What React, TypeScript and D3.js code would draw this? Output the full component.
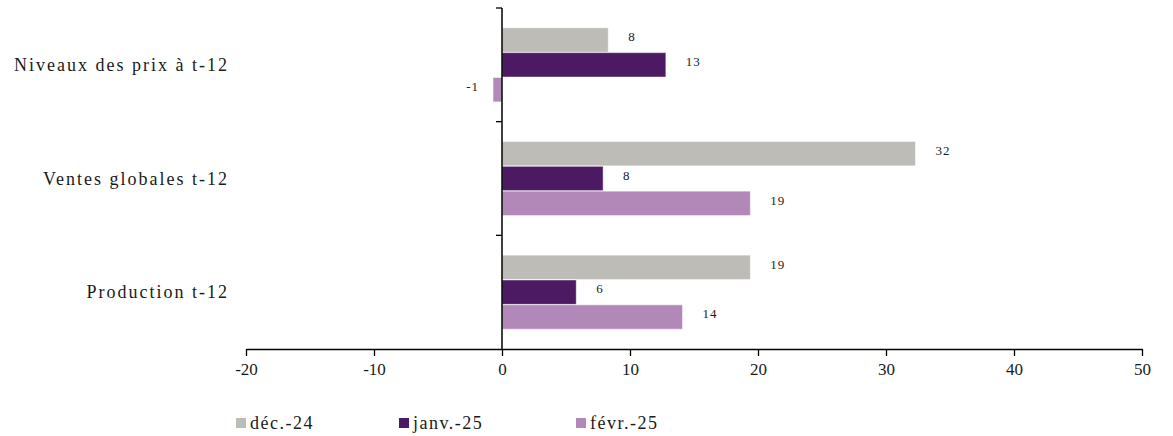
import React, { useEffect, useRef } from 'react';
import * as d3 from 'd3';

// chart values
const categories = ['Niveaux des prix à t-12', 'Ventes globales t-12', 'Production t-12'];
const seriesNames = ['déc.-24', 'janv.-25', 'févr.-25'];
const seriesColors = ['#bdbcb7', '#4b1a63', '#b288b8'];
const dec24 = [8.3, 32.3, 19.4];
const janv25 = [12.8, 7.9, 5.8];
const fevr25 = [-0.7, 19.4, 14.1];
const xTicks = [-20, -10, 0, 10, 20, 30, 40, 50];

const W = 1173;
const H = 436;
const FONT = "'Liberation Serif', serif";
const fmt = (d: number) => String(Math.round(d));

const App = () => {
  const ref = useRef<SVGSVGElement | null>(null);

  useEffect(() => {
    const svg = d3.select(ref.current);
    svg.selectAll('*').remove();

    const series = [dec24, janv25, fevr25];
    const x = d3.scaleLinear().domain([-20, 50]).range([246, 1142]);
    const y = d3.scaleBand<string>().domain(categories).range([8, 349]).paddingInner(0.34).paddingOuter(0.17);
    const inner = d3.scaleBand<number>().domain([0, 1, 2]).range([0, y.bandwidth()]).padding(0.02);

    // bars
    series.forEach((vals, si) => {
      const g = svg.append('g');
      g.selectAll('rect')
        .data(vals)
        .enter().append('rect')
        .attr('x', d => x(Math.min(0, d)))
        .attr('y', (d, i) => (y(categories[i]) as number) + (inner(si) as number))
        .attr('width', d => Math.abs(x(d) - x(0)))
        .attr('height', inner.bandwidth())
        .attr('fill', seriesColors[si])
        .attr('stroke', 'rgba(255,255,255,0.45)')
        .attr('stroke-width', 1);

      g.selectAll('text')
        .data(vals)
        .enter().append('text')
        .attr('x', d => d < 0 ? x(d) - 14 : x(d) + 20)
        .attr('y', (d, i) => (y(categories[i]) as number) + (inner(si) as number) + inner.bandwidth() / 2)
        .attr('dy', '0.1em')
        .attr('text-anchor', d => d < 0 ? 'end' : 'start')
        .style('font-family', FONT)
        .style('font-size', '13px')
        .style('letter-spacing', '1px')
        .attr('fill', '#1a1a1a')
        .text(d => fmt(d));
    });

    // x axis
    const xAxis = svg.append('g')
      .attr('transform', 'translate(0,349)')
      .call(d3.axisBottom(x).tickValues(xTicks).tickSize(7).tickSizeOuter(0).tickFormat(d => fmt(d as number)));
    xAxis.select('.domain').attr('stroke', '#000').attr('stroke-width', 1.5);
    xAxis.selectAll('.tick line').attr('stroke', '#000').attr('stroke-width', 1.3);
    xAxis.selectAll('.tick text')
      .style('font-family', FONT)
      .style('font-size', '17px')
      .attr('fill', '#1a1a1a')
      .attr('dy', '0.95em');

    // y axis at zero, ticks between categories
    const yAxis = svg.append('g');
    yAxis.append('line')
      .attr('x1', x(0)).attr('x2', x(0))
      .attr('y1', 8).attr('y2', 349)
      .attr('stroke', '#000').attr('stroke-width', 1.5);
    yAxis.selectAll('line.tk')
      .data(categories)
      .enter().append('line')
      .attr('class', 'tk')
      .attr('x1', x(0) - 6).attr('x2', x(0))
      .attr('y1', d => (y(d) as number) - y.step() * y.paddingInner() / 2 + (d === categories[0] ? y.step() * (y.paddingInner() / 2 - y.paddingOuter()) : 0))
      .attr('y2', d => (y(d) as number) - y.step() * y.paddingInner() / 2 + (d === categories[0] ? y.step() * (y.paddingInner() / 2 - y.paddingOuter()) : 0))
      .attr('stroke', '#000').attr('stroke-width', 1.3);

    // category labels
    svg.append('g').selectAll('text')
      .data(categories)
      .enter().append('text')
      .attr('x', 229)
      .attr('y', d => (y(d) as number) + y.bandwidth() / 2)
      .attr('dy', '0.35em')
      .attr('text-anchor', 'end')
      .style('font-family', FONT)
      .style('font-size', '18px')
      .style('letter-spacing', '2px')
      .attr('fill', '#1a1a1a')
      .text(d => d);

    // legend
    const legendX = [236, 399, 576];
    const lg = svg.append('g').selectAll('g')
      .data(seriesNames)
      .enter().append('g')
      .attr('transform', (d, i) => `translate(${legendX[i]},418)`);
    lg.append('rect')
      .attr('width', 10).attr('height', 10)
      .attr('fill', (d, i) => seriesColors[i]);
    lg.append('text')
      .attr('x', 14).attr('y', 5)
      .attr('dy', '0.35em')
      .style('font-family', FONT)
      .style('font-size', '18px')
      .style('letter-spacing', '1.5px')
      .attr('fill', '#1a1a1a')
      .text(d => d);
  }, []);

  return (
    <svg
      ref={ref}
      width={W}
      height={H}
      style={{ position: 'absolute', left: 0, top: 0, background: '#fff' }}
    />
  );
};

export default App;
